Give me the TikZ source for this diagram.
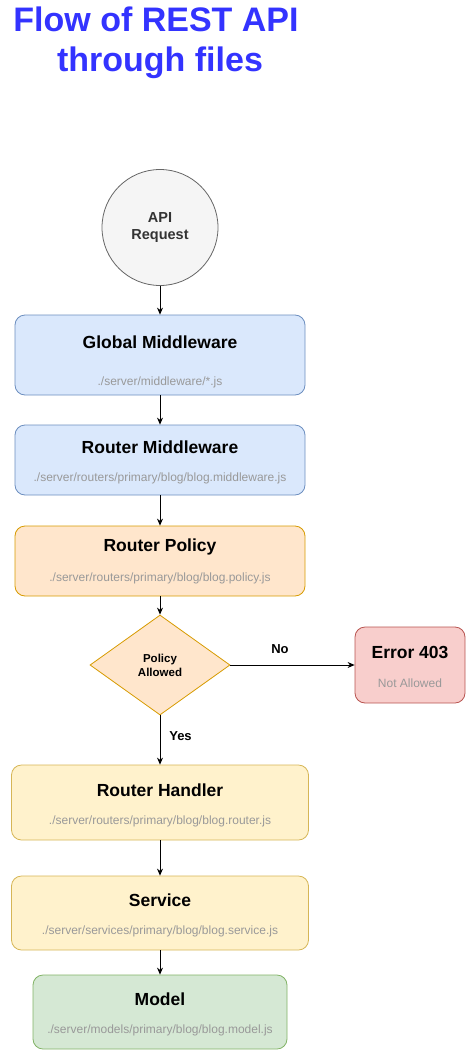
\documentclass[tikz,border=0pt]{standalone}
\usepackage{fontspec}
\setmainfont{Liberation Sans}
\usetikzlibrary{arrows.meta,shapes.geometric}
\definecolor{titleblue}{HTML}{3333FF}
\definecolor{circfill}{HTML}{F5F5F5}
\definecolor{circdraw}{HTML}{666666}
\definecolor{circtext}{HTML}{333333}
\definecolor{bluefill}{HTML}{DAE8FC}
\definecolor{bluedraw}{HTML}{6C8EBF}
\definecolor{orfill}{HTML}{FFE6CC}
\definecolor{ordraw}{HTML}{D79B00}
\definecolor{redfill}{HTML}{F8CECC}
\definecolor{reddraw}{HTML}{B85450}
\definecolor{yelfill}{HTML}{FFF2CC}
\definecolor{yeldraw}{HTML}{D6B656}
\definecolor{grnfill}{HTML}{D5E8D4}
\definecolor{grndraw}{HTML}{82B366}
\definecolor{subgray}{HTML}{999999}
\tikzset{
  box/.style={draw, rounded corners=10pt, line width=0.8pt, inner sep=0pt},
  bluebox/.style={box, fill=bluefill, draw=bluedraw},
  orbox/.style={box, fill=orfill, draw=ordraw},
  redbox/.style={box, fill=redfill, draw=reddraw},
  yelbox/.style={box, fill=yelfill, draw=yeldraw},
  grnbox/.style={box, fill=grnfill, draw=grndraw},
  ttl/.style={font=\fontsize{17.5}{20}\selectfont\bfseries, text=black, inner sep=0pt},
  sub/.style={font=\fontsize{12}{14}\selectfont, text=subgray, inner sep=0pt},
  lbl/.style={font=\fontsize{13}{15}\selectfont\bfseries, text=black, inner sep=0pt},
  conn/.style={line width=0.8pt, -{Stealth[length=7pt,width=6pt]}},
  bigtitle/.style={font=\fontsize{34}{40}\selectfont\bfseries, text=titleblue, inner sep=0pt}
}
\begin{document}
\begin{tikzpicture}[x=1pt,y=-1pt]
\useasboundingbox (0,0) rectangle (466,1051);
% title
\node[bigtitle, anchor=base] (t1) at (156,32) {Flow of REST API};
\node[bigtitle, anchor=base] (t2) at (160,72) {through files};
% API request
\node[circle, draw=circdraw, fill=circfill, line width=0.8pt, minimum size=116pt, inner sep=0pt,
      align=center, text=circtext, font=\fontsize{14.5}{17}\selectfont\bfseries] (api) at (160,227.5) {API\\Request};
% boxes
\node[bluebox, minimum width=290pt, minimum height=80pt] (gm) at (160,355) {};
\node[ttl] (gmt) at (160,342) {Global Middleware};
\node[sub] (gms) at (160,382) {./server/middleware/*.js};

\node[bluebox, minimum width=290pt, minimum height=70pt] (rm) at (160,460) {};
\node[ttl] (rmt) at (160,447) {Router Middleware};
\node[sub] (rms) at (160,478) {./server/routers/primary/blog/blog.middleware.js};

\node[orbox, minimum width=290pt, minimum height=70pt] (rp) at (160,561) {};
\node[ttl] (rpt) at (160,547) {Router Policy};
\node[sub] (rps) at (160,578) {./server/routers/primary/blog/blog.policy.js};

\node[diamond, draw=ordraw, fill=orfill, line width=0.8pt, inner sep=0pt, aspect=1.4,
      minimum width=140pt, minimum height=100pt] (pa) at (160,665) {};
\node[align=center, font=\fontsize{11.5}{14}\selectfont\bfseries, inner sep=0pt] (pat) at (160,665) {Policy\\Allowed};

\node[redbox, minimum width=110pt, minimum height=76pt] (err) at (410,665) {};
\node[ttl] (errt) at (410,652) {Error 403};
\node[sub] (errs) at (410,683) {Not Allowed};

\node[yelbox, minimum width=297pt, minimum height=75pt] (rh) at (160,802.5) {};
\node[ttl] (rht) at (160,790) {Router Handler};
\node[sub] (rhs) at (160,821) {./server/routers/primary/blog/blog.router.js};

\node[yelbox, minimum width=297pt, minimum height=74pt] (sv) at (160,913) {};
\node[ttl] (svt) at (160,900) {Service};
\node[sub] (svs) at (160,931) {./server/services/primary/blog/blog.service.js};

\node[grnbox, minimum width=254pt, minimum height=74pt] (md) at (160,1012) {};
\node[ttl] (mdt) at (160,999) {Model};
\node[sub] (mds) at (160,1030) {./server/models/primary/blog/blog.model.js};

% connectors
\draw[conn] (api.south) -- (gm.north);
\draw[conn] (gm.south) -- (rm.north);
\draw[conn] (rm.south) -- (rp.north);
\draw[conn] (rp.south) -- (pa.north);
\draw[conn] (pa.east) -- (err.west);
\draw[conn] (pa.south) -- (rh.north);
\draw[conn] (rh.south) -- (sv.north);
\draw[conn] (sv.south) -- (md.north);
% labels
\node[lbl] (no) at (280,649) {No};
\node[lbl] (yes) at (180.5,736) {Yes};
\end{tikzpicture}
\end{document}
